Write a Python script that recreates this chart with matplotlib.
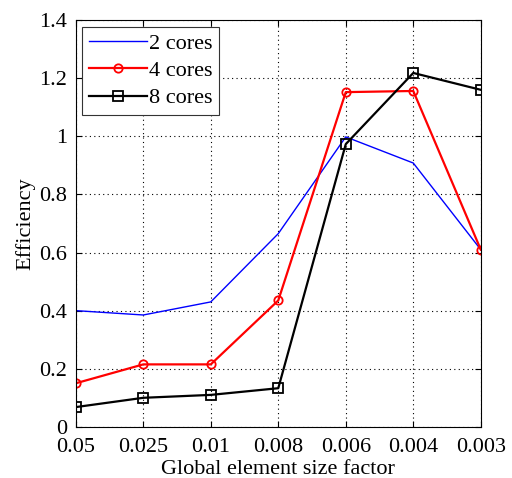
import numpy as np
import matplotlib
matplotlib.use("Agg")
import matplotlib.pyplot as plt

plt.rcParams['font.family'] = ['Liberation Serif', 'DejaVu Serif']
plt.rcParams['mathtext.fontset'] = 'stix'

# element size factors on the x axis (equally spaced categories)
size_labels = ['0.05', '0.025', '0.01', '0.008', '0.006', '0.004', '0.003']
eff_2 = [0.40, 0.385, 0.43, 0.665, 0.998, 0.908, 0.61]
eff_4 = [0.15, 0.215, 0.215, 0.435, 1.152, 1.156, 0.61]
eff_8 = [0.068, 0.10, 0.11, 0.133, 0.973, 1.218, 1.16]

x = np.arange(len(size_labels))

fig = plt.figure(figsize=(5.12, 4.78), dpi=100)
ax = fig.add_axes([0.148, 0.107, 0.791, 0.851])

ax.plot(x, eff_2, color='blue', lw=1.0, label='2 cores')
ax.plot(x, eff_4, color='red', lw=1.6, marker='o', ms=6, mfc='none',
        mec='red', mew=1.3, label='4 cores')
ax.plot(x, eff_8, color='black', lw=1.6, marker='s', ms=7, mfc='none',
        mec='black', mew=1.3, label='8 cores')

ax.set_xlim(0, len(size_labels) - 1)
ax.set_ylim(0, 1.4)
ax.set_xticks(x)
ax.set_xticklabels(size_labels)
ax.set_yticks([0, 0.2, 0.4, 0.6, 0.8, 1, 1.2, 1.4])
ax.set_yticklabels(['0', '0.2', '0.4', '0.6', '0.8', '1', '1.2', '1.4'])
ax.tick_params(labelsize=16, direction='in', length=4, top=True, right=True)
ax.tick_params(axis='x', pad=8)
ax.tick_params(axis='y', pad=6)
ax.grid(True, linestyle=(0, (1, 3)), color='black', lw=0.8)

ax.set_xlabel('Global element size factor', fontsize=16, labelpad=2)
ax.set_ylabel('Efficiency', fontsize=16, labelpad=3)

leg = ax.legend(loc='upper left', fontsize=16, fancybox=False, framealpha=1,
                edgecolor='#333333', handlelength=2.6, handletextpad=0.1,
                borderaxespad=0.3, labelspacing=0.3, borderpad=0.3)
leg.get_frame().set_linewidth(0.8)

fig.savefig('out.png', dpi=100)
